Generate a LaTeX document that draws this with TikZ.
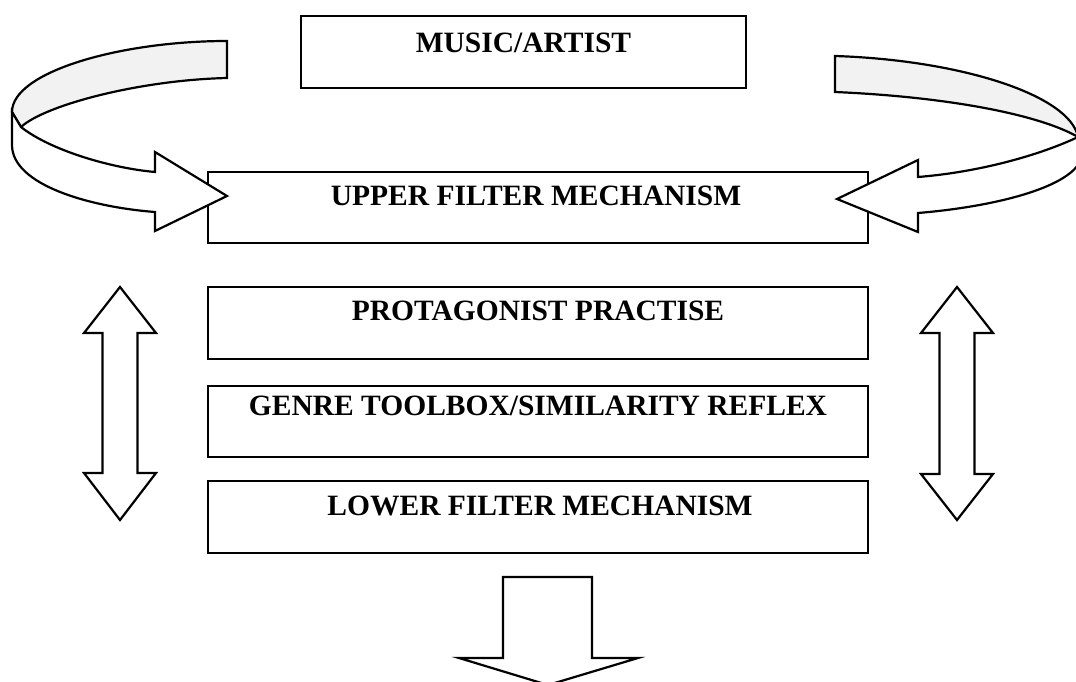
\documentclass[tikz,border=0pt]{standalone}
\usepackage{fontspec}
\setmainfont{Liberation Serif}
\begin{document}
\begin{tikzpicture}[x=1pt,y=-1pt,
  box/.style={draw, line width=2.2pt, inner sep=0pt},
  lbl/.style={font=\fontsize{29.5}{31}\selectfont\bfseries, inner sep=0pt, anchor=base},
  arrowshape/.style={draw, fill=white, line width=2.2pt, line join=miter},
  backface/.style={draw, fill=black!5, line width=2.2pt, line join=miter}]
\useasboundingbox (0,0) rectangle (1076,682);
\clip (0,0) rectangle (1076,682);

% boxes
\node[box, minimum width=445pt, minimum height=72pt] (music) at (523.5,52) {};
\node[box, minimum width=660pt, minimum height=71pt] (upper) at (538,207.5) {};
\node[box, minimum width=660pt, minimum height=72pt] (prot)  at (538,323) {};
\node[box, minimum width=660pt, minimum height=71pt] (genre) at (538,421.5) {};
\node[box, minimum width=660pt, minimum height=72pt] (lower) at (538,517) {};

% box labels
\node[lbl] (musicT) at (523.5,53) {MUSIC/ARTIST};
\node[lbl] (upperT) at (536,205)  {UPPER FILTER MECHANISM};
\node[lbl] (protT)  at (538,320)  {PROTAGONIST PRACTISE};
\node[lbl] (genreT) at (538,415)  {GENRE TOOLBOX/SIMILARITY REFLEX};
\node[lbl] (lowerT) at (540,515)  {LOWER FILTER MECHANISM};

% left curved arrow (ribbon turning into the upper box)
\path[backface] (227,41) .. controls (120,41) and (12,72) .. (12,112)
  -- (21,127) .. controls (45,105) and (140,80) .. (227,78) -- cycle;
\path[arrowshape] (12,112) -- (21,127)
  .. controls (50,150) and (110,168) .. (155,172)
  -- (155,152) -- (227,196) -- (155,231) -- (155,212)
  .. controls (90,207) and (12,185) .. (12,145) -- cycle;

% right curved arrow
\path[backface] (835,56) .. controls (960,60) and (1070,95) .. (1078,137)
  .. controls (1040,115) and (950,97) .. (835,92) -- cycle;
\path[arrowshape] (1078,137) .. controls (1040,155) and (980,172) .. (918,177)
  -- (918,160) -- (837,199) -- (918,232) -- (918,213)
  .. controls (990,207) and (1060,190) .. (1078,165) -- cycle;

% vertical double arrows
\path[arrowshape] (120,287) -- (156,333) -- (137.5,333) -- (137.5,473) -- (156,473)
  -- (120,520) -- (84,473) -- (102.5,473) -- (102.5,333) -- (84,333) -- cycle;
\path[arrowshape] (957,287) -- (993,333) -- (974.5,333) -- (974.5,474) -- (993,474)
  -- (957,520) -- (921,474) -- (939.5,474) -- (939.5,333) -- (921,333) -- cycle;

% output arrow
\path[arrowshape] (503,577) -- (592,577) -- (592,658) -- (638,658) -- (548,685)
  -- (459,658) -- (503,658) -- cycle;
\end{tikzpicture}
\end{document}
